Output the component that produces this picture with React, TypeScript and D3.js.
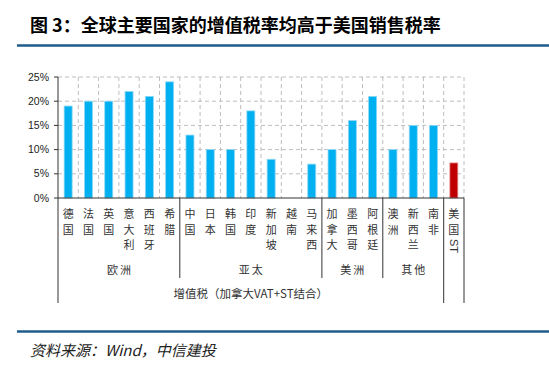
import React from 'react';
import * as d3 from 'd3';

const categories = ['德国','法国','英国','意大利','西班牙','希腊','中国','日本','韩国','印度','新加坡','越南','马来西','加拿大','墨西哥','阿根廷','澳洲','新西兰','南非','美国ST'];
const values: (number | null)[] = [19,20,20,22,21,24,13,10,10,18,8,null,7,10,16,21,10,15,15,7.25];
const highlight = ['美国ST'];
const groupNames = ['欧洲','亚太','美洲','其他'];
const groupSizes = [6,7,3,3];
const yTicks = [0,5,10,15,20,25];
const title = '图 3：全球主要国家的增值税率均高于美国销售税率';
const superGroup = '增值税（加拿大VAT+ST结合）';
const source = '资料来源：Wind，中信建投';

const W = 549, H = 374;
const X0 = 58, X1 = 464, YT = 77, YB = 198;
const CJK = '"Noto Sans CJK SC", "Noto Sans", sans-serif';

function tokens(label: string): { t: string; rot: boolean }[] {
  const out: { t: string; rot: boolean }[] = [];
  const re = /[A-Za-z0-9+]+|./g;
  let m;
  while ((m = re.exec(label))) out.push({ t: m[0], rot: /^[A-Za-z0-9+]+$/.test(m[0]) });
  return out;
}

export default function App() {
  const x = d3.scaleBand<string>().domain(categories).range([X0, X1]).paddingInner(0).paddingOuter(0);
  const y = d3.scaleLinear().domain([0, 25]).range([YB, YT]);
  const bw = x.bandwidth();
  const barW = 8;
  const boundaries = d3.range(1, categories.length + 1).map(i => X0 + i * bw);
  const cum = groupSizes.reduce<number[]>((a, s) => { a.push((a.length ? a[a.length - 1] : 0) + s); return a; }, []);
  const lineBlue = '#1f5d8c';

  return (
    <svg width={W} height={H} style={{ position: 'absolute', left: 0, top: 0, background: '#fff' }}>
      <rect width={W} height={H} fill="#fff" />
      <text x={30} y={32} fontFamily={CJK} fontWeight={700} fontSize={18} fill="#000">{title}</text>
      <line x1={17} x2={W} y1={45.5} y2={45.5} stroke={lineBlue} strokeWidth={2.5} />

      {/* grid */}
      {yTicks.filter(t => t > 0).map(t => (
        <line key={'h' + t} x1={X0} x2={X1} y1={y(t)} y2={y(t)} stroke="#bdbdbd" strokeWidth={1} strokeDasharray="4,3" />
      ))}
      {boundaries.map((bx, i) => (
        <line key={'v' + i} x1={bx} x2={bx} y1={YT} y2={YB} stroke="#bdbdbd" strokeWidth={1} strokeDasharray="4,3" />
      ))}

      {/* bars */}
      {categories.map((c, i) => {
        const v = values[i];
        if (v == null) return null;
        const cx = (x(c) as number) + bw / 2;
        const hi = highlight.includes(c);
        return (
          <rect key={c} x={cx - barW / 2} y={y(v)} width={barW} height={YB - y(v)}
            fill={hi ? '#c00000' : '#00b0f0'} stroke={hi ? '#e59a9a' : '#8fd8f5'} strokeWidth={0.8} />
        );
      })}

      {/* axes */}
      <line x1={X0} x2={X0} y1={YT} y2={303} stroke="#333" strokeWidth={1} />
      <line x1={X0} x2={X1} y1={YB} y2={YB} stroke="#333" strokeWidth={1} />
      {yTicks.map(t => (
        <g key={'t' + t}>
          <line x1={X0 - 4} x2={X0} y1={y(t)} y2={y(t)} stroke="#333" strokeWidth={1} />
          <text x={49} y={y(t) + 3.5} textAnchor="end" fontFamily="'Liberation Sans', Arial, sans-serif" fontSize={10.5} fill="#222">{t + '%'}</text>
        </g>
      ))}

      {/* group separators */}
      {cum.map((n, i) => {
        const bx = X0 + n * bw;
        const last = i === cum.length - 1;
        return <line key={'g' + i} x1={bx} x2={bx} y1={YB} y2={last ? 303 : 278} stroke="#333" strokeWidth={1} />;
      })}
      <line x1={X1} x2={X1} y1={YB} y2={303} stroke="#333" strokeWidth={1} />

      {/* category labels */}
      {categories.map((c) => {
        const cx = (x(c) as number) + bw / 2;
        return (
          <g key={'l' + c}>
            {tokens(c).map((tk, j) => {
              const by = 218 + j * 15.5;
              if (tk.rot) {
                return (
                  <text key={j} transform={`translate(${cx - 4},${by - 10}) rotate(90)`} fontFamily="'Liberation Sans', Arial, sans-serif" fontSize={11} fill="#333">{tk.t}</text>
                );
              }
              return <text key={j} x={cx} y={by} textAnchor="middle" fontFamily={CJK} fontSize={11} fill="#333">{tk.t}</text>;
            })}
          </g>
        );
      })}

      {/* group names */}
      {groupNames.map((g, i) => {
        const start = i === 0 ? 0 : cum[i - 1];
        const cx = X0 + (start + groupSizes[i] / 2) * bw;
        return <text key={g} x={cx + 1} y={274} textAnchor="middle" fontFamily={CJK} fontSize={11} fill="#333" letterSpacing={2}>{g}</text>;
      })}
      <text x={X0 + (cum[cum.length - 1] / 2) * bw} y={298} textAnchor="middle" fontFamily={CJK} fontSize={11.5} fill="#333">{superGroup}</text>

      <line x1={17} x2={W} y1={331.5} y2={331.5} stroke={lineBlue} strokeWidth={2.5} />
      <text x={30} y={356} fontFamily={CJK} fontStyle="italic" fontSize={15} fill="#222">{source}</text>
    </svg>
  );
}
